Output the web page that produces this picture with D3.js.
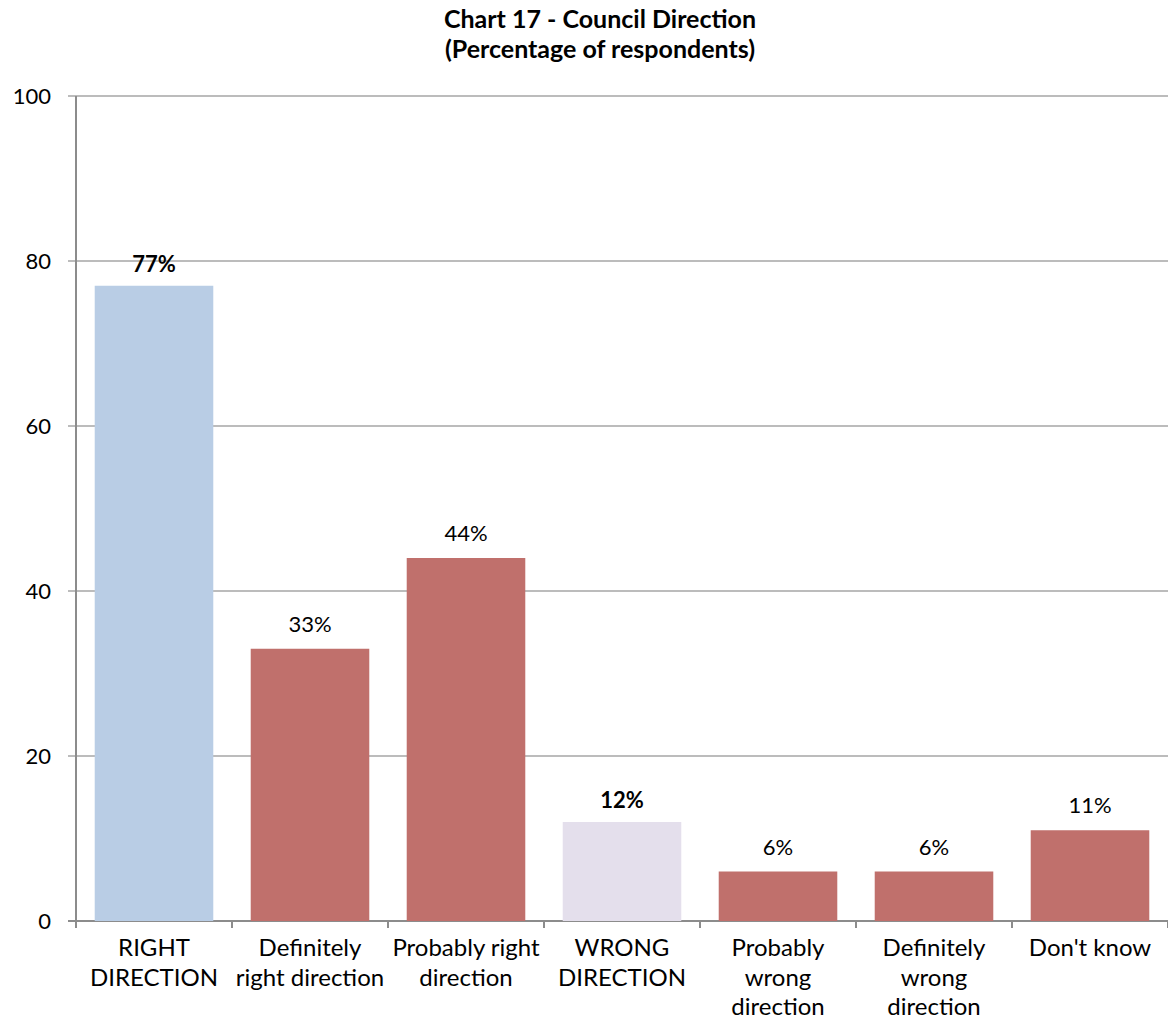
<!DOCTYPE html>
<html>
<head>
<meta charset="utf-8">
<script src="https://cdn.jsdelivr.net/npm/d3@7"></script>
<style>
  body { margin: 0; background: #fff; }
  svg { display: block; font-family: Lato, "Open Sans", "Liberation Sans", sans-serif; }
</style>
</head>
<body>
<svg id="chart" width="1168" height="1032"></svg>
<script>
// Council direction survey results (percent of respondents)
const categories = [
  ["RIGHT", "DIRECTION"],
  ["Definitely", "right direction"],
  ["Probably right", "direction"],
  ["WRONG", "DIRECTION"],
  ["Probably", "wrong", "direction"],
  ["Definitely", "wrong", "direction"],
  ["Don't know"]
];
const values = [77, 33, 44, 12, 6, 6, 11];
const barColors = ["#B9CDE5", "#C0706C", "#C0706C", "#E4DFEC", "#C0706C", "#C0706C", "#C0706C"];
const boldLabel = [true, false, false, true, false, false, false];
const yTicks = [0, 20, 40, 60, 80, 100];
const titleLines = ["Chart 17 - Council Direction", "(Percentage of respondents)"];

const svg = d3.select("#chart");
const margin = { left: 76, right: 0, top: 96, bottom: 111 };
const W = 1168, H = 1032;

const x = d3.scaleBand()
  .domain(d3.range(values.length))
  .range([margin.left, W - margin.right])
  .paddingInner(0.24)
  .paddingOuter(0.12);

const y = d3.scaleLinear().domain([0, 100]).range([H - margin.bottom, margin.top]);

// horizontal gridlines
svg.append("g")
  .selectAll("line")
  .data(yTicks)
  .join("line")
  .attr("x1", margin.left - 8)
  .attr("x2", W)
  .attr("y1", d => y(d))
  .attr("y2", d => y(d))
  .attr("stroke", d => d === 0 ? "#8C8C8C" : "#A6A6A6")
  .attr("stroke-width", d => d === 0 ? 2 : 1.3);

// y axis line
svg.append("line")
  .attr("x1", margin.left).attr("x2", margin.left)
  .attr("y1", y(100)).attr("y2", y(0) + 7)
  .attr("stroke", "#8C8C8C").attr("stroke-width", 2);

// y tick labels
svg.append("g")
  .selectAll("text")
  .data(yTicks)
  .join("text")
  .attr("x", margin.left - 25)
  .attr("y", d => y(d))
  .attr("dy", "0.35em")
  .attr("text-anchor", "end")
  .attr("font-size", 22)
  .attr("fill", "#000")
  .text(d => d);

// category boundary ticks on x axis
const boundaries = d3.range(values.length + 1).map(i => margin.left + i * (W - margin.left - margin.right) / values.length);
svg.append("g")
  .selectAll("line")
  .data(boundaries)
  .join("line")
  .attr("x1", d => d).attr("x2", d => d)
  .attr("y1", y(0)).attr("y2", y(0) + 7)
  .attr("stroke", "#8C8C8C").attr("stroke-width", 2);

// bars
svg.append("g")
  .selectAll("rect")
  .data(values)
  .join("rect")
  .attr("x", (d, i) => x(i))
  .attr("width", x.bandwidth())
  .attr("y", d => y(d))
  .attr("height", d => y(0) - y(d))
  .attr("fill", (d, i) => barColors[i]);

// value labels
svg.append("g")
  .selectAll("text")
  .data(values)
  .join("text")
  .attr("x", (d, i) => x(i) + x.bandwidth() / 2)
  .attr("y", (d, i) => y(d) - (boldLabel[i] ? 14 : 17))
  .attr("text-anchor", "middle")
  .attr("font-size", 22)
  .attr("font-weight", (d, i) => boldLabel[i] ? "bold" : "normal")
  .attr("fill", "#000")
  .text(d => d + "%");

// category labels
const catG = svg.append("g")
  .selectAll("text")
  .data(categories)
  .join("text")
  .attr("x", (d, i) => x(i) + x.bandwidth() / 2)
  .attr("y", y(0) + 35)
  .attr("text-anchor", "middle")
  .attr("font-size", 24)
  .attr("fill", "#000");
catG.selectAll("tspan")
  .data(d => d)
  .join("tspan")
  .attr("x", function () { return this.parentNode.getAttribute("x"); })
  .attr("dy", (d, i) => i === 0 ? 0 : 29.5)
  .text(d => d);

// title
svg.append("g")
  .selectAll("text")
  .data(titleLines)
  .join("text")
  .attr("x", 600)
  .attr("y", (d, i) => 28 + i * 30)
  .attr("text-anchor", "middle")
  .attr("font-size", 25)
  .attr("font-weight", "bold")
  .attr("fill", "#000")
  .text(d => d);
</script>
</body>
</html>
